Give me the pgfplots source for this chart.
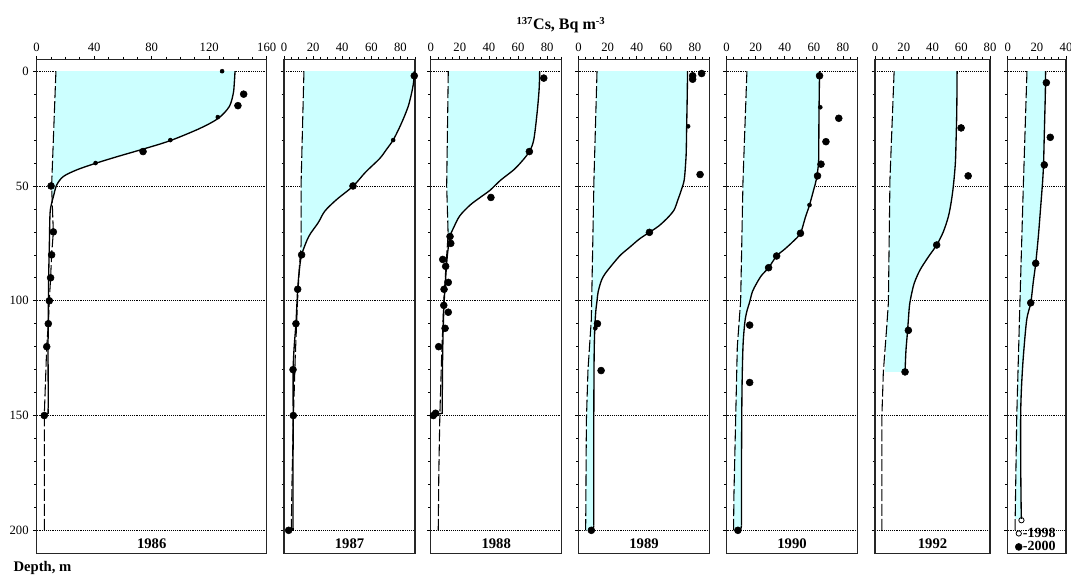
\documentclass[border=0pt]{standalone}
\usepackage{fontspec}
\setmainfont{Liberation Serif}
\usepackage{pgfplots}
\pgfplotsset{compat=1.18}
\definecolor{fillc}{RGB}{204,255,255}
\tikzset{yearlab/.style={font=\bfseries\fontsize{11}{13}\selectfont, anchor=base}}
\pgfplotsset{
 panel/.style={
  scale only axis, height=370.5pt, anchor=south west,
  y dir=reverse, ymin=-5.2, ymax=210,
  ytick={0,50,100,150,200}, minor ytick={0,10,...,200},
  ymajorgrids, major grid style={densely dotted, black, line width=0.6pt},
  xtick pos=right, xticklabel pos=right, ytick pos=left,
  tick align=outside, major tick length=2.5pt, minor tick length=1.8pt,
  tick style={black, line width=0.5pt},
  axis line style={line width=0.8pt, black!85},
  ticklabel style={font=\fontsize{9.5}{10}\selectfont},
  /pgf/number format/assume math mode=true,
  clip=false,
 },
 noy/.style={yticklabels={}},
 curve/.style={black, line width=1pt, smooth, no markers},
 hook/.style={black, line width=1pt, no markers},
 ref/.style={black, line width=0.8pt, dash pattern=on 9pt off 2.2pt, no markers},
 dots/.style={only marks, mark=*, mark size=2.6pt, black},
 sdots/.style={only marks, mark=*, mark size=1.5pt, black},
 area/.style={fill=fillc, draw=none, no markers},
}
\begin{document}
\begin{tikzpicture}
\useasboundingbox (0,0) rectangle (803.25pt,431.25pt);
% ---------------- 1986
\begin{axis}[panel, at={(27.5pt,16.3pt)}, width=172.5pt, xmin=0, xmax=160,
  xtick={0,40,...,160}, minor xtick={0,10,...,160}]
\addplot[area] coordinates {(138,0) (137.5,5) (136.8,9.6) (134,15.4) (126.4,20.5) (113.6,24.9) (92.7,30.3) (74.2,33.9) (55.6,37.3) (40.6,40.2) (27.8,43) (18.5,45.9) (13.9,49.6) (11.6,54.7) (11,56) (10.4,50) (13.4,0)};
\addplot[ref] coordinates {(13.4,0) (10.4,50) (11.6,70) (10.4,80) (9.7,90) (8.8,100) (8.1,110) (7,120) (5.3,150) (5.3,200)};
\addplot[curve] coordinates {(138,0) (137.5,5) (136.8,9.6) (134,15.4) (126.4,20.5) (113.6,24.9) (92.7,30.3) (74.2,33.9) (55.6,37.3) (40.6,40.2) (27.8,43) (18.5,45.9) (13.9,49.6) (11.6,54.7) (10.4,57.6) (9.3,62) (8.8,76.5) (8.3,91) (8.1,108.5) (7.9,120) (8,135) (8,147)};
\addplot[hook] coordinates {(8,147) (8,149) (5.3,150)};
\addplot[dots] coordinates {(144,10) (140,15) (74,35) (10,50) (11.6,70) (10.4,80) (9.7,90) (8.8,100) (8.1,110) (7,120) (5.3,150)};
\addplot[sdots] coordinates {(129,0) (126,20) (93,30) (41,40)};
\node[yearlab] at (axis cs:80,208) {1986};
\end{axis}
% ---------------- 1987
\begin{axis}[panel, noy, at={(213pt,16.3pt)}, width=98.25pt, xmin=0, xmax=90,
  xtick={0,20,...,80}, minor xtick={0,5,...,90}]
\addplot[area] coordinates {(89.6,0) (89,5) (87.5,10) (85.5,15) (82.5,20) (79,25) (75,30) (70.5,34) (65.8,38) (56,44) (47.6,50) (36,56) (28,61) (23.5,66) (17,72) (12.1,80) (11.2,80) (11.8,75) (11.7,50) (13.7,0)};
\addplot[ref] coordinates {(13.7,0) (11.7,50) (11.8,75) (10.6,85) (9.3,100) (7.7,125) (6.5,150) (5.6,175) (5,200)};
\addplot[curve] coordinates {(89.6,0) (89,5) (87.5,10) (85.5,15) (82.5,20) (79,25) (75,30) (70.5,34) (65.8,38) (56,44) (47.6,50) (36,56) (28,61) (23.5,66) (17,72) (12.1,80) (10.5,87) (9.4,95) (8.2,110) (7,120) (6.3,130) (6.3,150) (6.2,175) (6.2,199)};
\addplot[hook] coordinates {(6.2,199) (6.2,200) (3.2,200)};
\addplot[dots] coordinates {(89.5,2) (47.4,50) (12.1,80) (9.4,95) (8.2,110) (6.2,130) (6.4,150) (3.2,200)};
\addplot[sdots] coordinates {(75,30)};
\node[yearlab] at (axis cs:45,208) {1987};
\end{axis}
% ---------------- 1988
\begin{axis}[panel, noy, at={(323pt,16.3pt)}, width=98.25pt, xmin=0, xmax=90,
  xtick={0,20,...,80}, minor xtick={0,5,...,90}]
\addplot[area] coordinates {(74.9,0) (74.5,8) (73.1,18.3) (70.8,30) (67.8,35) (63,39) (57,43) (48,47.5) (40.9,51.8) (34,55) (27.1,58.3) (20,63) (15.6,68.4) (13.3,72) (12,71) (11,50) (12.1,0)};
\addplot[ref] coordinates {(12.1,0) (11,50) (12,71) (10.5,85) (9,100) (7.5,125) (6.3,150) (5.6,175) (5.2,200)};
\addplot[curve] coordinates {(74.9,0) (74.5,8) (73.1,18.3) (70.8,30) (67.8,35) (63,39) (57,43) (48,47.5) (40.9,51.8) (34,55) (27.1,58.3) (20,63) (15.6,68.4) (13.3,72) (11.5,80) (10.3,90) (9.3,100) (8.6,112) (8.2,125) (8,140) (8,148)};
\addplot[hook] coordinates {(8,148) (8,149) (3.4,149.5)};
\addplot[dots] coordinates {(77.7,3) (67.8,35) (41.4,55) (13.3,72) (13.8,75) (8.3,82) (10.3,85) (12.1,92) (9.2,95) (9,102) (12.1,105) (9.9,112) (5.5,120) (3.4,149) (1.8,150)};
\node[yearlab] at (axis cs:45,208) {1988};
\end{axis}
% ---------------- 1989
\begin{axis}[panel, noy, at={(433.9pt,16.3pt)}, width=98.25pt, xmin=0, xmax=90,
  xtick={0,20,...,80}, minor xtick={0,5,...,90}]
\addplot[area] coordinates {(74.9,0) (74.7,10) (74.3,24) (74,35) (73.6,40) (72.6,47.4) (70.5,52) (68,56.5) (65.6,60.5) (61,64) (55,67.5) (49.4,69.9) (42,73) (35.5,76.5) (29,80) (23.9,83.7) (18.5,88) (15.8,91) (13.5,96) (12.7,100) (11.8,105) (11.1,113) (10.7,125) (10.5,150) (10.5,175) (10.5,198) (10,200) (4.9,200) (5.4,152) (6.5,130) (8.8,108) (10.6,47) (12.7,0)};
\addplot[ref] coordinates {(12.7,0) (10.6,47) (8.8,108) (6.5,130) (5.4,152) (4.9,200)};
\addplot[curve] coordinates {(74.9,0) (74.7,10) (74.3,24) (74,35) (73.6,40) (72.6,47.4) (70.5,52) (68,56.5) (65.6,60.5) (61,64) (55,67.5) (49.4,69.9) (42,73) (35.5,76.5) (29,80) (23.9,83.7) (18.5,88) (15.8,91) (13.5,96) (12.7,100) (11.8,105) (11.1,113) (10.7,125) (10.5,150) (10.5,175) (10.5,198)};
\addplot[hook] coordinates {(10.5,198) (10,199.5) (8.8,200)};
\addplot[dots] coordinates {(84.6,1) (78.4,2) (78.4,3.5) (83.5,45) (48.7,70.2) (13,110) (15.5,130.4) (8.8,200)};
\addplot[sdots] coordinates {(75.3,24) (11.5,112)};
\node[yearlab] at (axis cs:45,208) {1989};
\end{axis}
% ---------------- 1990
\begin{axis}[panel, noy, at={(544.9pt,16.3pt)}, width=98.25pt, xmin=0, xmax=90,
  xtick={0,20,...,80}, minor xtick={0,5,...,90}]
\addplot[area] coordinates {(63.9,0) (63.7,10) (63.5,20) (63.4,30) (63.2,40) (61.6,47.4) (59.8,51.8) (57,58.3) (54,64) (50.8,70.6) (46,74) (40,77.5) (34.4,80.5) (28.9,85.6) (24,89) (20.6,92.5) (17.8,96) (15.9,100.5) (13.8,105) (12.5,109.8) (11.3,120) (10.6,140) (10.3,170) (10.3,198) (9.8,200) (4.8,200) (5.1,184) (7.4,120) (9.7,100) (11.3,48) (14,0)};
\addplot[ref] coordinates {(14,0) (11.3,48) (9.7,100) (7.4,120) (5.1,184) (4.8,200)};
\addplot[curve] coordinates {(63.9,0) (63.7,10) (63.5,20) (63.4,30) (63.2,40) (61.6,47.4) (59.8,51.8) (57,58.3) (54,64) (50.8,70.6) (46,74) (40,77.5) (34.4,80.5) (28.9,85.6) (24,89) (20.6,92.5) (17.8,96) (15.9,100.5) (13.8,105) (12.5,109.8) (11.3,120) (10.6,140) (10.3,170) (10.3,198)};
\addplot[hook] coordinates {(10.3,198) (9.8,199.5) (7.8,200)};
\addplot[dots] coordinates {(63.9,2) (77.1,20.5) (68.3,30.7) (64.9,40.5) (62.5,45.6) (50.8,70.6) (34.4,80.5) (28.9,85.6) (15.9,110.6) (15.9,135.6) (7.8,200)};
\addplot[sdots] coordinates {(64.4,15.7) (57,58.3)};
\node[yearlab] at (axis cs:45,208) {1990};
\end{axis}
% ---------------- 1992
\begin{axis}[panel, noy, at={(656.25pt,16.3pt)}, width=86.25pt, xmin=0, xmax=80,
  xtick={0,20,...,80}, minor xtick={0,5,...,80}]
\addplot[area] coordinates {(57.1,0) (57,10) (56.8,20) (56.4,30) (55.9,40) (54.5,50) (53,57) (51,63.4) (47.5,70) (42.9,75.7) (37,81) (31.3,86.6) (27.5,92) (25.5,96.8) (24,102) (23.2,108.4) (22.4,115) (21.5,122) (20.9,131) (7,131) (8.2,111) (9.3,101) (10.4,47) (13.3,0)};
\addplot[ref] coordinates {(13.3,0) (10.4,47) (9.3,101) (8.2,111) (5.8,131) (4.8,150) (4.8,200)};
\addplot[curve] coordinates {(57.1,0) (57,10) (56.8,20) (56.4,30) (55.9,40) (54.5,50) (53,57) (51,63.4) (47.5,70) (42.9,75.7) (37,81) (31.3,86.6) (27.5,92) (25.5,96.8) (24,102) (23.2,108.4) (22.4,115) (21.5,122) (20.9,131)};
\addplot[dots] coordinates {(59.9,24.7) (64.8,45.6) (42.9,75.7) (23.2,112.9) (20.9,131)};
\node[yearlab] at (axis cs:40,208) {1992};
\end{axis}
% ---------------- 1998 / 2000
\begin{axis}[panel, noy, at={(755.8pt,16.3pt)}, width=43.7pt, xmin=0, xmax=40,
  xtick={0,20,40}, minor xtick={0,5,...,40},
  legend style={at={(axis cs:5,198.5)}, anchor=north west, draw=none, fill=none,
    font=\fontsize{10.5}{12}\selectfont\bfseries, inner sep=0pt, row sep=0.6pt,
    nodes={inner sep=0.5pt}},
  legend image code/.code={\draw[#1] plot coordinates {(0.1cm,0cm)};},
  legend cell align=left]
\addplot[area, forget plot] coordinates {(26,0) (25.8,10) (25.4,20) (25,30) (24.6,40) (24,47.5) (22.5,60) (21,72) (19.2,83.7) (17.5,92) (15.8,100.9) (13,108.4) (10.7,124.4) (9.5,137) (8.9,149) (8.9,170) (9.2,190) (9.4,195) (5.1,195) (6.2,150) (8.4,100) (10.7,50) (13.2,0)};
\addplot[ref, forget plot] coordinates {(13.2,0) (10.7,50) (8.4,100) (6.2,150) (5.1,195) (5.1,200)};
\addplot[curve, forget plot] coordinates {(26,0) (25.8,10) (25.4,20) (25,30) (24.6,40) (24,47.5) (22.5,60) (21,72) (19.2,83.7) (17.5,92) (15.8,100.9) (13,108.4) (10.7,124.4) (9.5,137) (8.9,149) (8.9,170) (9.2,190) (9.4,195)};
\addplot[only marks, mark=o, mark size=2pt, black, mark options={fill=white, line width=0.6pt}] coordinates {(9.4,195.6)};
\addlegendentry{-1998}
\addplot[only marks, mark=*, mark size=2.6pt, black] coordinates {(26.5,5) (29.2,28.8) (25.1,40.8) (19.2,83.7) (15.8,100.9)};
\addlegendentry{-2000}
\end{axis}
\node[anchor=base, font=\bfseries\fontsize{12}{14}\selectfont] at (420.75pt,408.75pt) {\textsuperscript{137}Cs, Bq m\textsuperscript{-3}};
\node[anchor=base west, inner sep=0pt, font=\bfseries\fontsize{11}{13}\selectfont] at (10pt,2.5pt) {Depth, m};
\end{tikzpicture}
\end{document}
